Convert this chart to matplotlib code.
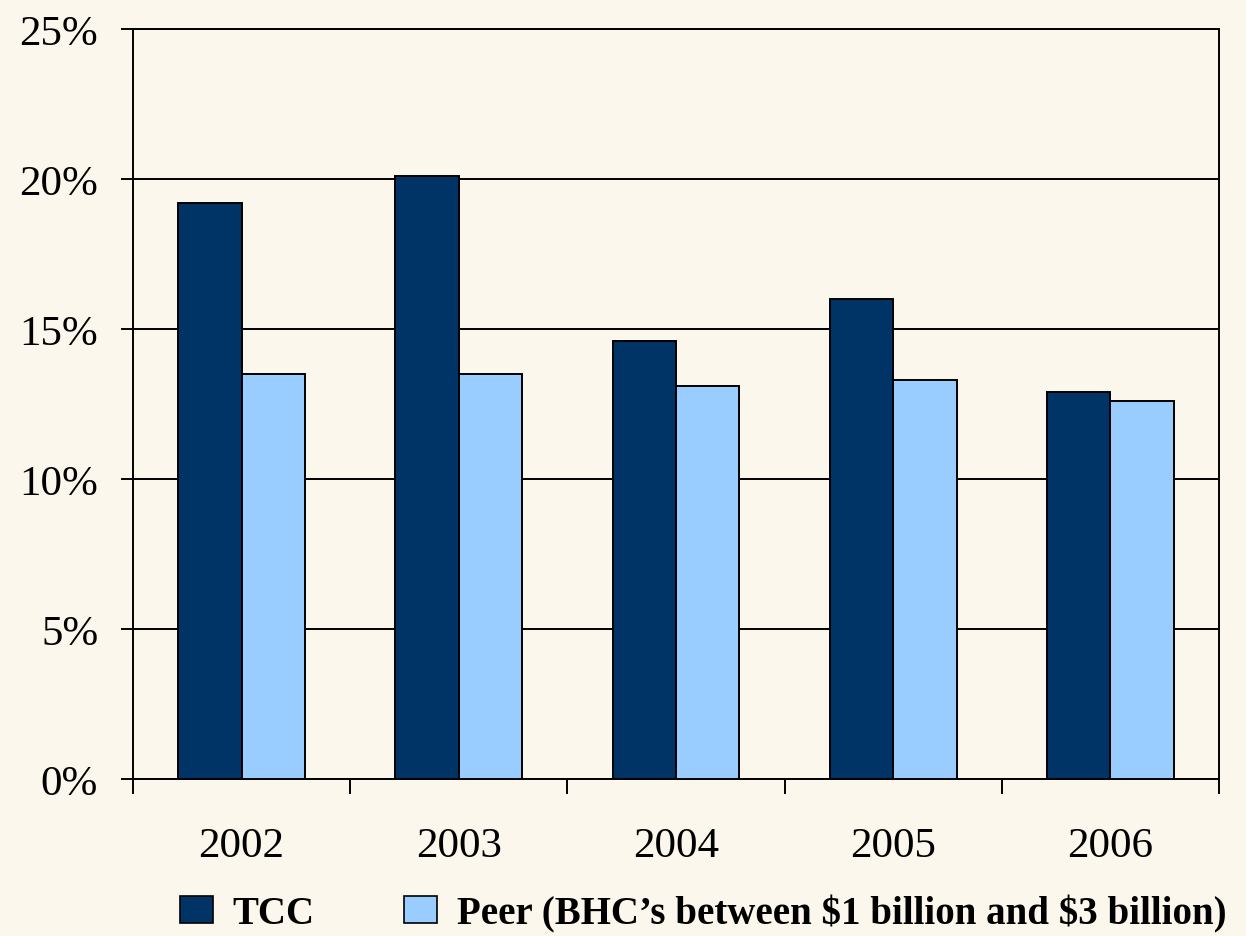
import matplotlib
matplotlib.use("Agg")
import matplotlib.pyplot as plt
import numpy as np
from matplotlib.patches import Patch
from matplotlib.ticker import FixedLocator, PercentFormatter

years = ["2002", "2003", "2004", "2005", "2006"]
tcc = [19.2, 20.1, 14.6, 16.0, 12.9]
peer = [13.5, 13.5, 13.1, 13.3, 12.6]

series_labels = ["TCC", "Peer (BHC\u2019s between \\$1 billion and \\$3 billion)"]

BG = "#FBF7EC"
NAVY = "#003366"
SKY = "#99CCFF"
LW = 1.4

plt.rcParams["font.family"] = ["Liberation Serif", "DejaVu Serif"]

fig = plt.figure(figsize=(12.46, 9.37), dpi=100, facecolor=BG)
ax = fig.add_axes([0.1067, 0.1676, 0.8716, 0.8004])
ax.set_facecolor(BG)

x = np.arange(len(years))
w = 0.292
ax.bar(x - w / 2, tcc, w, color=NAVY, edgecolor="black", linewidth=LW, zorder=3)
ax.bar(x + w / 2, peer, w, color=SKY, edgecolor="black", linewidth=LW, zorder=3)

ax.set_xlim(-0.5, len(years) - 0.5)
ax.set_ylim(0, 25)
ax.set_yticks(np.arange(0, 26, 5))
ax.yaxis.set_major_formatter(PercentFormatter(decimals=0))
ax.yaxis.grid(True, color="black", linewidth=LW, zorder=1)

# year labels at group centres, ticks on the group boundaries
ax.set_xticks(x)
ax.set_xticklabels(years)
ax.xaxis.set_minor_locator(FixedLocator(np.arange(-0.5, len(years), 1.0)))
ax.tick_params(axis="x", which="major", length=0, pad=34, labelsize=31)
ax.tick_params(axis="x", which="minor", length=11, width=LW, direction="out")
ax.tick_params(axis="y", length=9, width=LW, direction="out", pad=16, labelsize=31)

for s in ax.spines.values():
    s.set_linewidth(LW)

handles = [Patch(facecolor=NAVY, edgecolor="black", linewidth=1.2),
           Patch(facecolor=SKY, edgecolor="black", linewidth=1.2)]
fig.legend(handles, series_labels, ncol=2, loc="center left",
           bbox_to_anchor=(0.1445, 0.0245), frameon=False,
           prop={"weight": "bold", "size": 28},
           borderpad=0, borderaxespad=0,
           handlelength=0.85, handleheight=0.7, handletextpad=0.5,
           columnspacing=2.3)

fig.savefig("out.png", dpi=100, facecolor=BG)
